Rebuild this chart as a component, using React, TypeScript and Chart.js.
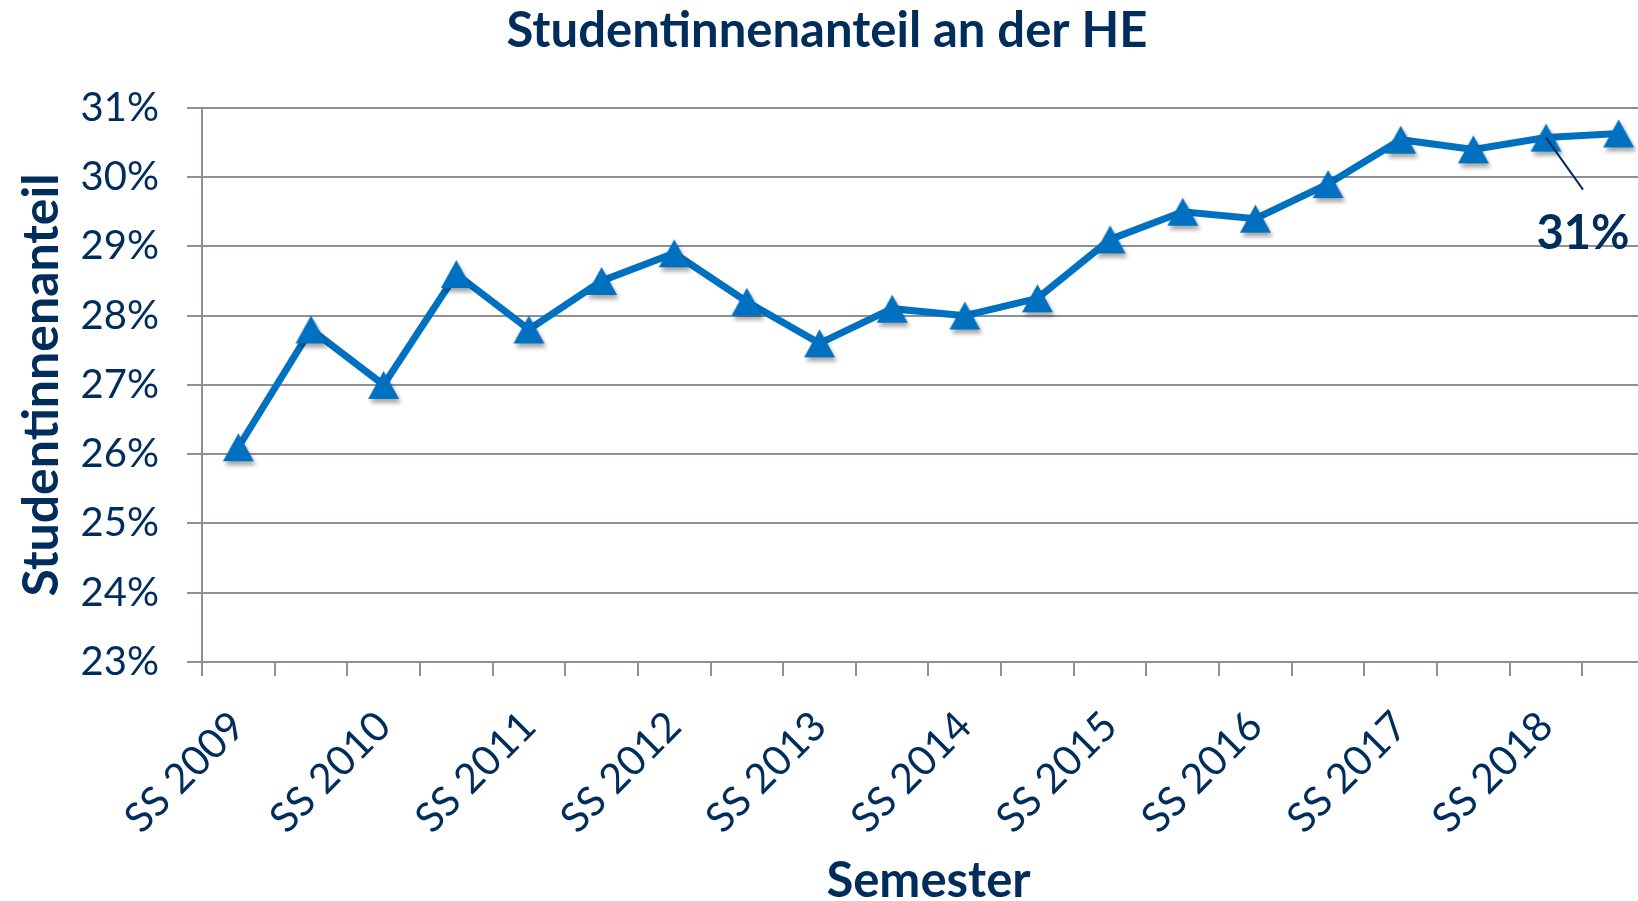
import React, { useEffect, useRef } from "react";
import { Chart, registerables } from "chart.js";

Chart.register(...registerables);

const categories = [
  "SS 2009", "WS 2009/10", "SS 2010", "WS 2010/11", "SS 2011", "WS 2011/12",
  "SS 2012", "WS 2012/13", "SS 2013", "WS 2013/14", "SS 2014", "WS 2014/15",
  "SS 2015", "WS 2015/16", "SS 2016", "WS 2016/17", "SS 2017", "WS 2017/18",
  "SS 2018", "WS 2018/19",
];

const shareValues = [
  26.1, 27.8, 27.0, 28.6, 27.8, 28.5, 28.9, 28.2, 27.6, 28.1,
  28.0, 28.25, 29.1, 29.5, 29.4, 29.9, 30.54, 30.4, 30.57, 30.63,
];

const yMin = 23;
const yMax = 31;
const annotatedIndex = 18;

const TEXT = "#002D5B";
const GRID = "#8C909B";
const BLUE = "#0070C0";
const FONT = "Lato";

function makeTriangle(): HTMLCanvasElement {
  const w = 31;
  const h = 28;
  const pad = 10;
  const c = document.createElement("canvas");
  c.width = w + pad * 2;
  c.height = h + pad * 2;
  const ctx = c.getContext("2d")!;
  const cx = c.width / 2;
  const cy = c.height / 2;
  ctx.shadowColor = "rgba(0,0,0,0.35)";
  ctx.shadowOffsetX = 2;
  ctx.shadowOffsetY = 4;
  ctx.shadowBlur = 4;
  ctx.fillStyle = BLUE;
  ctx.beginPath();
  ctx.moveTo(cx, cy - h / 2);
  ctx.lineTo(cx + w / 2, cy + h / 2);
  ctx.lineTo(cx - w / 2, cy + h / 2);
  ctx.closePath();
  ctx.fill();
  return c;
}

const annotationPlugin = {
  id: "annot",
  afterDatasetsDraw(chart: any) {
    const meta = chart.getDatasetMeta(0);
    const el = meta.data[annotatedIndex];
    if (!el) return;
    const { ctx } = chart;
    const x = el.x;
    const y = el.y;
    ctx.save();
    ctx.strokeStyle = TEXT;
    ctx.lineWidth = 2;
    ctx.beginPath();
    ctx.moveTo(x, y);
    ctx.lineTo(x + 37, y + 52);
    ctx.stroke();
    ctx.fillStyle = TEXT;
    ctx.font = `bold 47px ${FONT}`;
    ctx.textAlign = "center";
    ctx.textBaseline = "middle";
    ctx.fillText(Math.round(shareValues[annotatedIndex]) + "%", x + 37, y + 96);
    ctx.restore();
  },
};

export default function App() {
  const ref = useRef<HTMLCanvasElement>(null);
  useEffect(() => {
    const canvas = ref.current!;
    const tri = makeTriangle();
    const chart = new Chart(canvas, {
      type: "line",
      data: {
        labels: categories,
        datasets: [
          {
            data: shareValues,
            borderColor: BLUE,
            backgroundColor: BLUE,
            borderWidth: 7,
            pointStyle: tri as any,
            pointRadius: 15,
            tension: 0,
            clip: false as any,
          },
        ],
      },
      plugins: [annotationPlugin],
      options: {
        responsive: false,
        animation: false,
        devicePixelRatio: 1,
        layout: { padding: { left: -20, right: 6, top: 0, bottom: 0 } },
        plugins: {
          legend: { display: false },
          tooltip: { enabled: false },
          title: {
            display: true,
            text: "Studentinnenanteil an der HE",
            color: TEXT,
            font: { family: FONT, size: 49, weight: "bold" },
            padding: { top: 2, bottom: 47 },
          },
        },
        scales: {
          x: {
            type: "category",
            offset: true,
            afterFit: (s: any) => {
              s.height = 239;
            },
            grid: {
              offset: true,
              drawOnChartArea: false,
              color: GRID,
              lineWidth: 2,
              tickLength: 14,
            },
            border: { display: true, color: GRID, width: 2 },
            ticks: {
              autoSkip: false,
              maxRotation: 45,
              minRotation: 45,
              padding: 26,
              color: TEXT,
              font: { family: FONT, size: 41 },
              callback: (_v: any, i: number) => (i % 2 === 0 ? categories[i] : ""),
            },
            title: {
              display: true,
              text: "Semester",
              color: TEXT,
              font: { family: FONT, size: 49, weight: "bold", lineHeight: 0.8 },
              padding: { top: 0, bottom: 0 },
            },
          },
          y: {
            min: yMin,
            max: yMax,
            afterFit: (s: any) => {
              s.width = 222;
            },
            grid: { color: GRID, lineWidth: 2, tickLength: 15 },
            border: { display: true, color: GRID, width: 2 },
            ticks: {
              stepSize: 1,
              padding: 28,
              color: TEXT,
              font: { family: FONT, size: 40 },
              callback: (v: any) => v + "%",
            },
            title: {
              display: true,
              text: "Studentinnenanteil",
              color: TEXT,
              font: { family: FONT, size: 50, weight: "bold" },
              padding: { top: 32, bottom: 0 },
            },
          },
        },
      },
    });
    return () => chart.destroy();
  }, []);
  return (
    <div
      style={{
        position: "fixed",
        left: 0,
        top: 0,
        width: 1638,
        height: 901,
        overflow: "hidden",
        background: "#fff",
      }}
    >
      <canvas ref={ref} width={1680} height={901} style={{ display: "block" }} />
    </div>
  );
}
